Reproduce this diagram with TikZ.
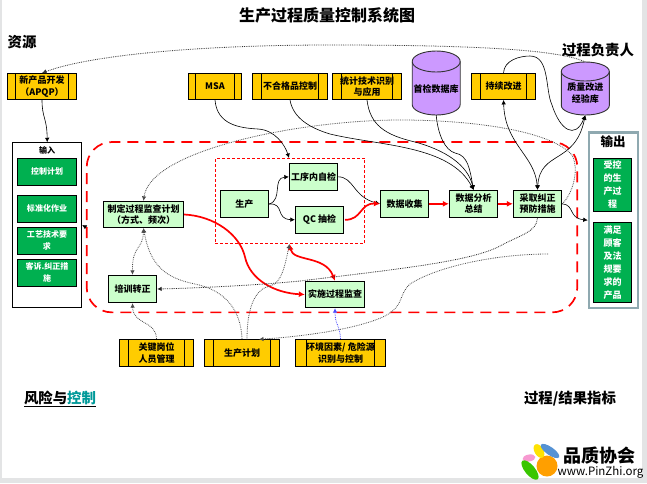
\documentclass[tikz,border=0pt]{standalone}
\usepackage{fontspec}
\setmainfont{Noto Sans CJK SC}
\usetikzlibrary{arrows.meta}

\definecolor{resyellow}{HTML}{FFCC00}
\definecolor{procgreen}{HTML}{CCFFCC}
\definecolor{ioGreen}{HTML}{00B050}
\definecolor{dbpurple}{HTML}{CC99FF}
\definecolor{outgray}{HTML}{8FA9B0}
\definecolor{ctrlteal}{HTML}{009999}
\definecolor{pagegray}{HTML}{E3E4E5}

% drum of a database: centre x, top y, bottom y, half height of the ellipse
\newcommand{\dbdrum}[4]{
    \draw[draw=black!80, line width=0.9pt, fill=dbpurple] (#1-24,#2+#4) -- (#1-24,#3-#4) arc[start angle=180, end angle=0, x radius=24, y radius=#4] -- (#1+24,#2+#4) arc[start angle=0, end angle=-180, x radius=24, y radius=#4] -- cycle;
    \draw[draw=black!80, line width=0.9pt] (#1-24,#2+#4) arc[start angle=180, end angle=0, x radius=24, y radius=#4];
}

\tikzset{
    >={Latex[length=4.5pt,width=4.5pt]},
    boxtext/.style={font=\fontsize{9}{11.5}\selectfont\bfseries, align=center, inner sep=0pt},
    procbox/.style={boxtext, draw, line width=0.9pt, fill=procgreen},
    resbox/.style={boxtext, draw, line width=0.9pt, fill=resyellow, minimum height=26,
        path picture={
            \draw[line width=0.9pt] ([xshift=#1]path picture bounding box.north west) -- ([xshift=#1]path picture bounding box.south west);
            \draw[line width=0.9pt] ([xshift=-#1]path picture bounding box.north east) -- ([xshift=-#1]path picture bounding box.south east);
        }},
    inbox/.style={draw, line width=0.9pt, fill=ioGreen, text=white, font=\fontsize{8}{12}\selectfont\bfseries, align=center, inner sep=0pt, minimum width=59.4, minimum height=27},
    outbox/.style={inbox, font=\fontsize{9}{13}\selectfont\bfseries, minimum width=38.4},
    dblabel/.style={boxtext, minimum width=48},
    heading/.style={font=\fontsize{14.4}{17}\selectfont\bfseries, inner sep=0pt},
    solidflow/.style={->, line width=0.6pt},
    dotflow/.style={->, line width=0.8pt, densely dotted, black!70},
    redflow/.style={->, line width=1.7pt, red, >={Latex[length=6pt,width=6pt]}},
}

\begin{document}
\begin{tikzpicture}[x=1pt, y=-1pt]
    \useasboundingbox (0,0) rectangle (647,483);
    \fill[pagegray] (0,0) rectangle (647,483);
    \fill[white] (2,0) rectangle (642,478);

    % Titles of the four corners
    \node[font=\fontsize{16}{18}\selectfont\bfseries, inner sep=0pt] (title) at (327,15) {生产过程质量控制系统图};
    \node[heading] (reslabel) at (22,42) {资源};
    \node[heading] (ownerlabel) at (598,50) {过程负责人};
    \node[heading] (risklabel) at (60,399) {\underline{风险与\textcolor{ctrlteal}{控制}}};
    \node[heading] (kpilabel) at (570,399) {过程/结果指标};

    % Frames of the process
    \node[draw=red, line width=1.7pt, dash pattern=on 11pt off 7pt, rounded corners=25, minimum width=490.6, minimum height=170.3, inner sep=0pt] (loop) at (332,227.2) {};
    \node[draw=red, line width=0.8pt, dash pattern=on 3pt off 2pt, minimum width=149.4, minimum height=85.4, inner sep=0pt] (inspect) at (290,201) {};

    % Top resources
    \node[resbox=8pt, minimum width=69] (apqp) at (42,86.5) {新产品开发\\（APQP）};
    \node[resbox=7pt, minimum width=53] (msa) at (215,86.5) {MSA};
    \node[resbox=9pt, minimum width=75] (reject) at (290,86.5) {不合格品控制};
    \node[resbox=9pt, minimum width=69.4] (stat) at (367,86.5) {统计技术识别\\与应用};
    \node[resbox=9pt, minimum width=64.4] (improve) at (503.5,86.5) {持续改进};

    % Databases
    \dbdrum{436.2}{51}{115}{10.5}
    \node[dblabel, minimum height=52] (firstdb) at (436.2,89) {首检数据库};
    \dbdrum{585.3}{62}{115}{9.5}
    \node[dblabel, minimum height=44] (lessondb) at (585.3,93) {质量改进\\经验库};
    \coordinate (lessontop) at (585.3,62);

    % Input column
    \node[draw, line width=0.9pt, minimum width=69, minimum height=164.6, inner sep=0pt] (input) at (47.2,225) {};
    \node[boxtext, font=\fontsize{8}{10}\selectfont\bfseries] (inputlabel) at (47,150) {输入};
    \node[inbox] (ctrlplan) at (47,171.8) {控制计划};
    \node[inbox] (standard) at (47,208.8) {标准化作业};
    \node[inbox] (techreq) at (47,240.8) {工艺技术要\\求};
    \node[inbox] (complaint) at (47,272.8) {客诉.纠正措\\施};

    % Output column
    \node[draw=outgray, line width=2.4pt, minimum width=49.3, minimum height=175.7, inner sep=0pt] (output) at (613.6,220.2) {};
    \node[boxtext, font=\fontsize{12.5}{14}\selectfont\bfseries] (outputlabel) at (613,142) {输出};
    \node[outbox, minimum height=53] (ctrlproc) at (612.5,184.8) {受控\\的生\\产过\\程};
    \node[outbox, minimum height=80] (product) at (612.5,262.3) {满足\\顾客\\及法\\规要\\求的\\产品};

    % Process steps
    \node[procbox, minimum width=80.4, minimum height=26.4] (make) at (143.5,214.5) {制定过程监查计划\\（方式、频次）};
    \node[procbox, minimum width=48.4, minimum height=27.4] (train) at (132.5,289) {培训转正};
    \node[procbox, minimum width=48.7, minimum height=27.4] (prod) at (244.3,204) {生产};
    \node[procbox, minimum width=48.4, minimum height=27.2] (selfcheck) at (313.5,176.8) {工序内自检};
    \node[procbox, minimum width=48.4, minimum height=27] (qc) at (319.5,219.8) {QC 抽检};
    \node[procbox, minimum width=59.4, minimum height=26.4] (exec) at (335,294.5) {实施过程监查};
    \node[procbox, minimum width=48.4, minimum height=27] (collect) at (404.5,203.8) {数据收集};
    \node[procbox, minimum width=48.4, minimum height=27] (analysis) at (473.5,203.8) {数据分析\\总结};
    \node[procbox, minimum width=48.4, minimum height=27] (correct) at (537.5,203.8) {采取纠正\\预防措施};

    % Bottom resources
    \node[resbox=9pt, minimum width=74.4, minimum height=27.4] (staff) at (156.5,353) {关键岗位\\人员管理};
    \node[resbox=9.5pt, minimum width=75.4, minimum height=27.4] (plan) at (242,353) {生产计划};
    \node[resbox=11pt, minimum width=90.4, minimum height=27.4] (env) at (340.5,353) {环境因素/ 危险源\\识别与控制};

    % Free ends of the connectors
    \coordinate (selfentry) at (289,158);
    \coordinate (qcexit) at (345,219.8);
    \coordinate (planin) at (259,339.3);
    \coordinate (planout) at (247,339.3);
    \coordinate (inspectin) at (289.5,244);
    \coordinate (issue) at (548,254);

    % Solid connectors
    \draw[solidflow] (apqp.south) .. controls (42,118) and (47,118) .. (input.north);
    \draw[solidflow] (msa.south) .. controls (217,125) and (240,128) .. (258,129) .. controls (275,130) and (285,145) .. (selfentry);
    \draw[solidflow] (reject.south) .. controls (293,118) and (310,128) .. (330,134) .. controls (380,146) and (450,145) .. (analysis.north);
    \draw[solidflow] (stat.south) .. controls (370,125) and (385,135) .. (415,142) .. controls (445,150) and (468,165) .. (analysis.north);
    \draw[solidflow] (firstdb.south) .. controls (438,135) and (445,150) .. (455,153) .. controls (468,155) and (470,170) .. (analysis.north);
    \draw[solidflow] (improve.north) .. controls (504,60) and (520,56) .. (530,56) .. controls (550,56) and (545,90) .. (552,105) .. controls (560,130) and (575,140) .. (lessondb.south);
    \draw[solidflow, <->] (correct.north) .. controls (535,155) and (505,145) .. (improve.south);
    \draw[solidflow, <->] (correct.north) .. controls (540,150) and (575,165) .. (lessondb.south);
    \draw[solidflow] (correct.east) .. controls (575,205) and (568,218) .. (output.west);
    \draw[solidflow] (prod.east) .. controls (283,200) and (272,178) .. (selfcheck.west);
    \draw[solidflow] (prod.east) .. controls (285,203) and (275,219) .. (qc.west);
    \draw[solidflow] (selfcheck.east) .. controls (354,177) and (353,197) .. (collect.west);
    \draw[solidflow] (loop.west) -- (input.east);

    % Main flow in red
    \draw[redflow] (make.east) .. controls (215,216) and (240,235) .. (245,257) .. controls (250,280) and (275,293) .. (exec.west);
    \draw[redflow, <->] (exec.north) .. controls (325,255) and (293,262) .. (inspectin);
    \draw[redflow] (qcexit) .. controls (362,220) and (360,203) .. (collect.west);
    \draw[redflow] (collect.east) -- (analysis.west);
    \draw[redflow] (analysis.east) -- (correct.west);

    % Dotted connectors
    \draw[dotflow, black!80] (lessontop) .. controls (560,50) and (480,45) .. (330,45) .. controls (200,45) and (90,55) .. (apqp.north);
    \draw[dotflow] (correct.east) .. controls (572,195) and (580,170) .. (572,155) .. controls (550,130) and (470,120) .. (400,120) .. controls (300,120) and (150,150) .. (make.north);
    \draw[dotflow, <->] (make.south) .. controls (143,250) and (132,245) .. (train.north);
    \draw[dotflow] (staff.north) .. controls (156,320) and (133,325) .. (train.south);
    \draw[dotflow] (plan.north) .. controls (241,310) and (225,290) .. (195,284) .. controls (165,278) and (150,265) .. (make.south);
    \draw[dotflow] (planout) .. controls (247,320) and (250,290) .. (270,286) .. controls (282,283) and (285,265) .. (inspectin);
    \draw[dotflow, black!85] (correct.south) .. controls (537,232) and (520,235) .. (500,246) .. controls (470,262) and (390,270) .. (300,281) .. controls (260,285) and (200,288) .. (train.east);
    \draw[dotflow] (issue) .. controls (500,254) and (440,265) .. (410,284) .. controls (398,295) and (405,305) .. (385,316) .. controls (360,328) and (310,336) .. (planin);
    \draw[dotflow, blue!70] (env.north) .. controls (340,325) and (335,325) .. (exec.south);

    % Logo
    \fill[orange!75!yellow] (547,466) circle (10.5);
    \fill[yellow!85!orange, rotate around={-60:(539,451)}] (539,451) ellipse (7.5 and 4.5);
    \fill[cyan!55!blue!70, rotate around={-35:(550,451)}] (550,451) ellipse (11 and 4);
    \fill[magenta!40, rotate around={10:(529,458)}] (529,458) ellipse (6.5 and 3.5);
    \fill[green!55!olive, rotate around={-50:(530,470)}] (530,470) ellipse (12 and 5);
    \node[font=\fontsize{18}{20}\selectfont\bfseries, inner sep=0pt] (logotext) at (599.5,456) {品质协会};
    \node[font=\fontsize{11.5}{13}\selectfont, inner sep=0pt] (logourl) at (600.5,472) {www.PinZhi.org};
\end{tikzpicture}
\end{document}
